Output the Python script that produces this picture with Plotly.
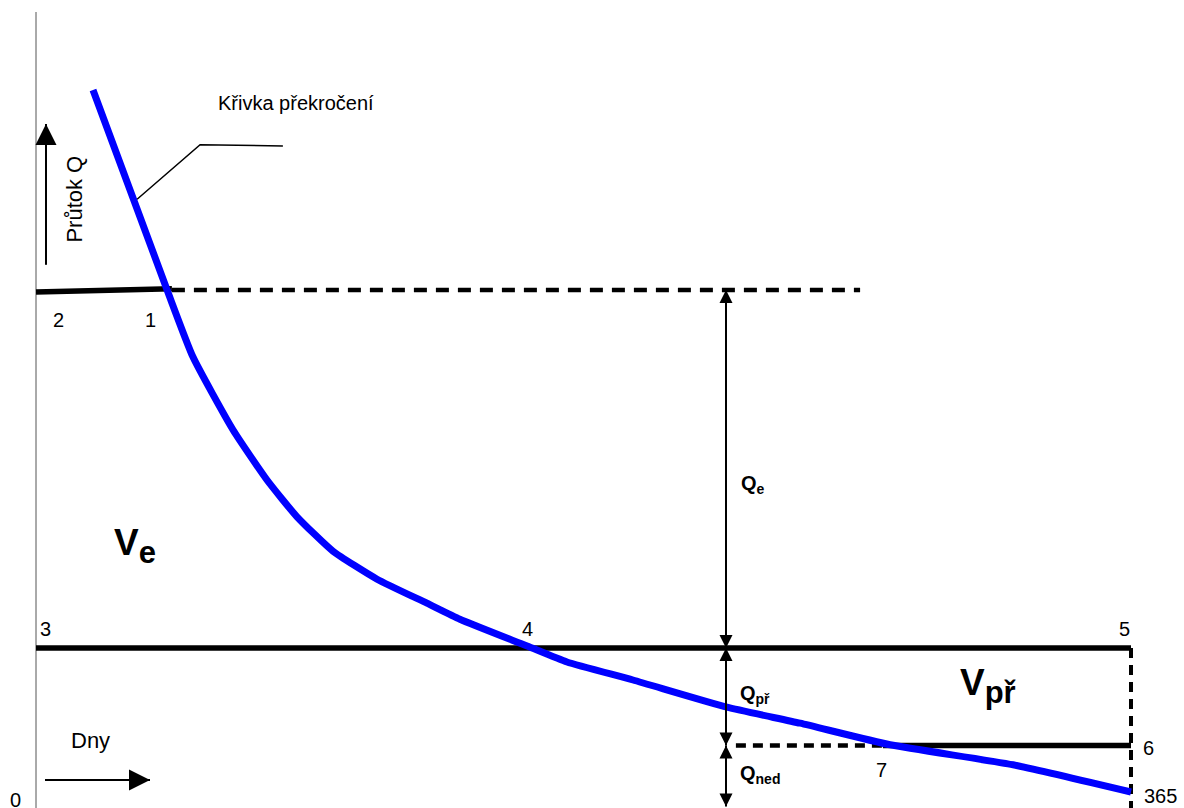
import plotly.graph_objects as go

# ---- data (days on x, discharge Q in arbitrary units on y) ----
curve_days = [19.0, 43.7, 52.3, 65.7, 77.0, 87.0, 99.0, 113.7, 130.3, 141.3,
              163.7, 177.0, 199.0, 230.3, 254.7, 284.7, 325.7, 365.0]
curve_q = [89.75, 64.75, 56.4, 47.25, 41.0, 36.4, 32.1, 28.6, 25.6, 23.6,
           20.25, 18.25, 16.0, 12.6, 10.6, 7.9, 5.4, 2.0]

q_level_e = 64.75      # level 1-2 (extraordinary discharge)
q_level_pr = 20.0      # level 3-4-5
q_level_ned = 7.8      # level 6-7
day_end = 365
day_arrow = 230
day_point1 = 45.3
day_dash_end = 274.7
day_point7 = 282.3
day_dash6_start = 233.3

point_labels = ["0", "1", "2", "3", "4", "5", "6", "7", "365"]

FONT = "Arial, Liberation Sans, sans-serif"
BLACK = "#000000"
BLUE = "#0000FF"

fig = go.Figure()


def line(x, y, width, color=BLACK, dash="solid"):
    fig.add_trace(go.Scatter(x=x, y=y, mode="lines",
                             line=dict(color=color, width=width, dash=dash),
                             hoverinfo="skip", showlegend=False))


def head(x, y, symbol, size):
    fig.add_trace(go.Scatter(x=[x], y=[y], mode="markers",
                             marker=dict(symbol=symbol, size=size, color=BLACK,
                                         line=dict(width=0)),
                             hoverinfo="skip", showlegend=False))


# vertical axis line
line([0, 0], [0, 99.5], 1, color="#555555")

# level 1-2 (solid) and its dashed continuation
line([0, day_point1], [64.5, 64.9], 5.5)
line([day_point1, day_dash_end], [q_level_e, q_level_e], 4.5, dash="13px,9px")

# level 3-5
line([0, day_end], [q_level_pr, q_level_pr], 5.5)

# vertical dashed line at day 365
line([day_end, day_end], [q_level_pr, 0], 4, dash="10px,7px")

# level 6-7
line([day_dash6_start, day_point7], [q_level_ned, q_level_ned], 4.5, dash="10px,7px")
line([day_point7, day_end], [q_level_ned, q_level_ned], 5.5)

# duration curve
fig.add_trace(go.Scatter(x=curve_days, y=curve_q, mode="lines",
                         line=dict(color=BLUE, width=7, shape="spline", smoothing=0.5),
                         hoverinfo="skip", showlegend=False))

# leader line for the curve label
line([33.7, 54.7, 82.3], [76.1, 82.9, 82.75], 1.5)

# dimension arrows at day_arrow
line([day_arrow, day_arrow], [q_level_e, q_level_pr], 2)
head(day_arrow, q_level_e, "arrow-up", 13)
head(day_arrow, q_level_pr, "arrow-down", 13)
line([day_arrow, day_arrow], [q_level_pr, q_level_ned], 2)
head(day_arrow, q_level_pr, "arrow-up", 13)
head(day_arrow, q_level_ned, "arrow-down", 13)
line([day_arrow, day_arrow], [q_level_ned, 0.2], 2)
head(day_arrow, q_level_ned, "arrow-up", 13)
head(day_arrow, 0.2, "arrow-down", 13)

# "Průtok Q" arrow and "Dny" arrow
line([3.33, 3.33], [67.9, 85.5], 2)
head(3.33, 85.5, "arrow-up", 21)
line([3.0, 38.0], [3.5, 3.5], 2)
head(38.0, 3.5, "arrow-right", 21)

annotations = []


def text(x, y, s, size, bold=False, xanchor="center", yanchor="middle", angle=0):
    annotations.append(dict(x=x, y=y, xref="x", yref="y", text=s, showarrow=False,
                            xanchor=xanchor, yanchor=yanchor, textangle=angle,
                            font=dict(family=FONT, size=size, color=BLACK,
                                      weight="bold" if bold else "normal")))


text(-6.8, 1.0, point_labels[0], 20)
text(38.2, 61.0, point_labels[1], 20)
text(7.5, 61.0, point_labels[2], 20)
text(3.2, 22.4, point_labels[3], 20)
text(163.8, 22.4, point_labels[4], 20)
text(362.8, 22.4, point_labels[5], 20)
text(370.8, 7.56, point_labels[6], 20)
text(281.7, 4.81, point_labels[7], 20)
text(374.7, 1.56, point_labels[8], 20)

text(60.0, 88.1, "Křivka překročení", 20, xanchor="left")
text(12.8, 76.1, "Průtok Q", 22, angle=-90)
text(18.3, 8.5, "Dny", 22)

text(234.3, 40.5, "Q<sub>e</sub>", 20, bold=True, xanchor="left")
text(234.0, 14.2, "Q<sub>př</sub>", 20, bold=True, xanchor="left")
text(234.0, 4.2, "Q<sub>ned</sub>", 20, bold=True, xanchor="left")
text(25.3, 32.8, "V<sub><span style='font-size:31px'>e</span></sub>", 37,
     bold=True, xanchor="left")
text(307.3, 15.2, "V<sub><span style='font-size:31px'>př</span></sub>", 37,
     bold=True, xanchor="left")

fig.update_layout(
    width=1184, height=808,
    margin=dict(l=0, r=0, t=0, b=0),
    paper_bgcolor="white", plot_bgcolor="white",
    xaxis=dict(range=[-12, 382.667], visible=False, fixedrange=True),
    yaxis=dict(range=[0, 101], visible=False, fixedrange=True),
    annotations=annotations,
    showlegend=False,
)

fig.write_html("out.html", config={"displayModeBar": False},
               post_script="document.body.style.margin='0';")
